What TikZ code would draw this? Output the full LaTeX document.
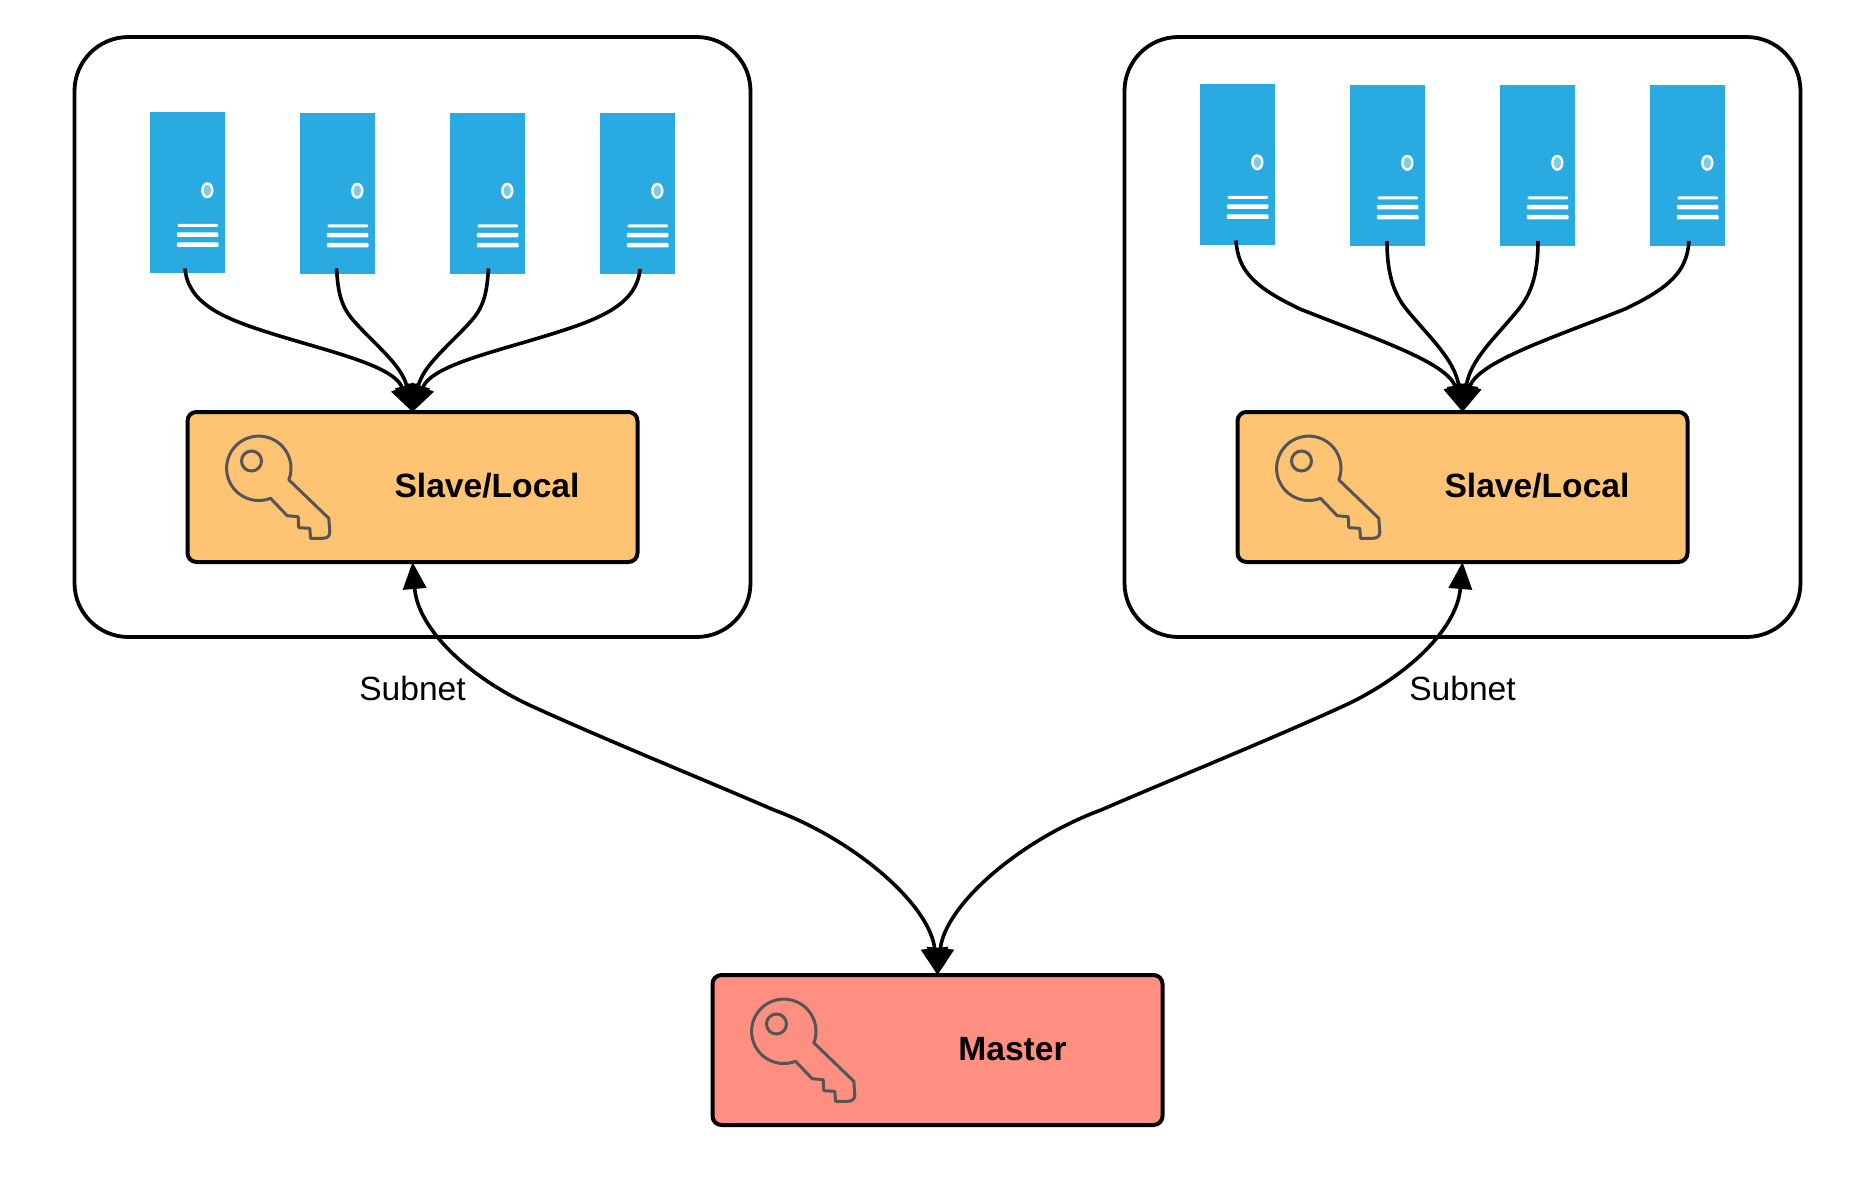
\documentclass[tikz,border=0pt]{standalone}
\usepackage{fontspec}
\setmainfont{Liberation Sans}
\usepackage{xcolor}
\usetikzlibrary{arrows.meta}
\usetikzlibrary{positioning}
\definecolor{rackblue}{HTML}{29ABE2}
\definecolor{rackled}{HTML}{7FCBEC}
\definecolor{slaveorange}{HTML}{FFC374}
\definecolor{masterred}{HTML}{FF8F80}
\definecolor{keygrey}{HTML}{555555}
\tikzset{
  subnetbox/.style={draw, line width=3.8pt, rounded corners=54pt, minimum width=676pt, minimum height=600pt, anchor=north west, inner sep=0pt, outer sep=0pt},
  keybox/.style={draw, line width=4pt, rounded corners=9pt, minimum width=450pt, minimum height=150pt, anchor=north west, inner sep=0pt, outer sep=0pt},
  boxlabel/.style={font=\bfseries\fontsize{33.6}{36}\selectfont},
  netlabel/.style={font=\fontsize{33.6}{36}\selectfont},
  rack/.style={fill=rackblue, minimum width=75pt, minimum height=161pt, anchor=north west, inner sep=0pt, outer sep=0pt},
  link/.style={line width=3.6pt, -{Triangle[length=27pt,width=23pt]}},
  uplink/.style={line width=3.6pt, {Triangle[length=27pt,width=23pt]}-{Triangle[length=27pt,width=27pt]}},
  keyicon/.pic={
    \draw [keygrey, line width=3pt, line join=round] (83,86.3) arc[start angle=68.7, end angle=381, radius=32.2]
      -- (141.3,106.3) -- (142.3,120) .. controls (142.3,125) and (139,126.3) .. (134.7,126.3)
      -- (123,126.3) -- (122.3,116.3) -- (111.3,115.7) -- (110.7,104.7) -- (99.7,103.7) -- cycle;
    \draw [keygrey, line width=3pt] (64,49) circle(10);
  }
}
\begin{document}
\begin{tikzpicture}[x=1pt, y=-1pt]
  \useasboundingbox (0,0) rectangle (1875,1201);
  % outer frames
  \node [subnetbox] (frameA) at (74.5,37) {};
  \node [subnetbox] (frameB) at (1124.5,37) {};
  % racks
  \foreach \name/\x/\y in {A1/150/112.5, A2/300/113, A3/450/113, A4/600/113, B1/1200/84.5, B2/1350/85, B3/1500/85, B4/1650/85} {
    \node [rack] (rack\name) at (\x,\y) {};
    \begin{scope}[shift={(\x,\y)}]
      \fill [rackled, draw=white, line width=2.4pt] (57.3,77.8) ellipse(5 and 6.8);
      \fill [white, rounded corners=1pt] (27.5,111.5) rectangle (68,114.3);
      \fill [white, rounded corners=1pt] (26.8,119.8) rectangle (68.3,124.5);
      \fill [white, rounded corners=1pt] (26.8,129.8) rectangle (68.5,134.5);
    \end{scope}
  }
  % key boxes
  \node [keybox, fill=slaveorange] (slaveA) at (187.5,412) {};
  \node [keybox, fill=slaveorange] (slaveB) at (1237.5,412) {};
  \node [keybox, fill=masterred] (master) at (712.5,975) {};
  \pic at (slaveA.north west) {keyicon};
  \pic at (slaveB.north west) {keyicon};
  \pic at (master.north west) {keyicon};
  \node [boxlabel] (slaveAtext) at (487,486) {Slave/Local};
  \node [boxlabel] (slaveBtext) at (1537,486) {Slave/Local};
  \node [boxlabel] (mastertext) at (1012.5,1049.5) {Master};
  \node [netlabel] (netA) at (412.5,688) {Subnet};
  \node [netlabel] (netB) at (1462.5,688) {Subnet};
  % rack links, left
  \draw [link] ([shift={(-2.5,-5)}]rackA1.south) .. controls (188,303) and (222,318) .. (270,333) .. controls (330,352) and (393,365) .. (slaveA.north);
  \draw [link] ([shift={(-1,-5.5)}]rackA2.south) .. controls (338,290) and (340,305) .. (353,320) .. controls (375,345) and (402,365) .. (slaveA.north);
  \draw [link] ([shift={(1,-5.5)}]rackA3.south) .. controls (487,290) and (485,305) .. (472,320) .. controls (450,345) and (423,365) .. (slaveA.north);
  \draw [link] ([shift={(2.5,-5)}]rackA4.south) .. controls (637,303) and (603,318) .. (555,333) .. controls (495,352) and (432,365) .. (slaveA.north);
  % rack links, right
  \draw [link] ([shift={(-1.5,-5)}]rackB1.south) .. controls (1238,272) and (1256,288) .. (1300,309) .. controls (1370,337) and (1448,362) .. (slaveB.north);
  \draw [link] ([shift={(-0.5,-5)}]rackB2.south) .. controls (1387,270) and (1392,292) .. (1407,310) .. controls (1430,338) and (1455,360) .. (slaveB.north);
  \draw [link] ([shift={(0.5,-5)}]rackB3.south) .. controls (1538,270) and (1533,292) .. (1518,310) .. controls (1495,338) and (1470,360) .. (slaveB.north);
  \draw [link] ([shift={(1.5,-5)}]rackB4.south) .. controls (1687,272) and (1669,288) .. (1625,309) .. controls (1555,337) and (1477,362) .. (slaveB.north);
  % master links
  \draw [uplink] (slaveA.south) .. controls (418,630) and (470,678) .. (533,706.7) .. controls (610,741.7) and (700,778) .. (774,810) .. controls (855,840) and (930,905) .. (master.north);
  \draw [uplink] (slaveB.south) .. controls (1457,630) and (1405,678) .. (1342,706.7) .. controls (1265,741.7) and (1175,778) .. (1101,810) .. controls (1020,840) and (945,905) .. (master.north);
\end{tikzpicture}
\end{document}
